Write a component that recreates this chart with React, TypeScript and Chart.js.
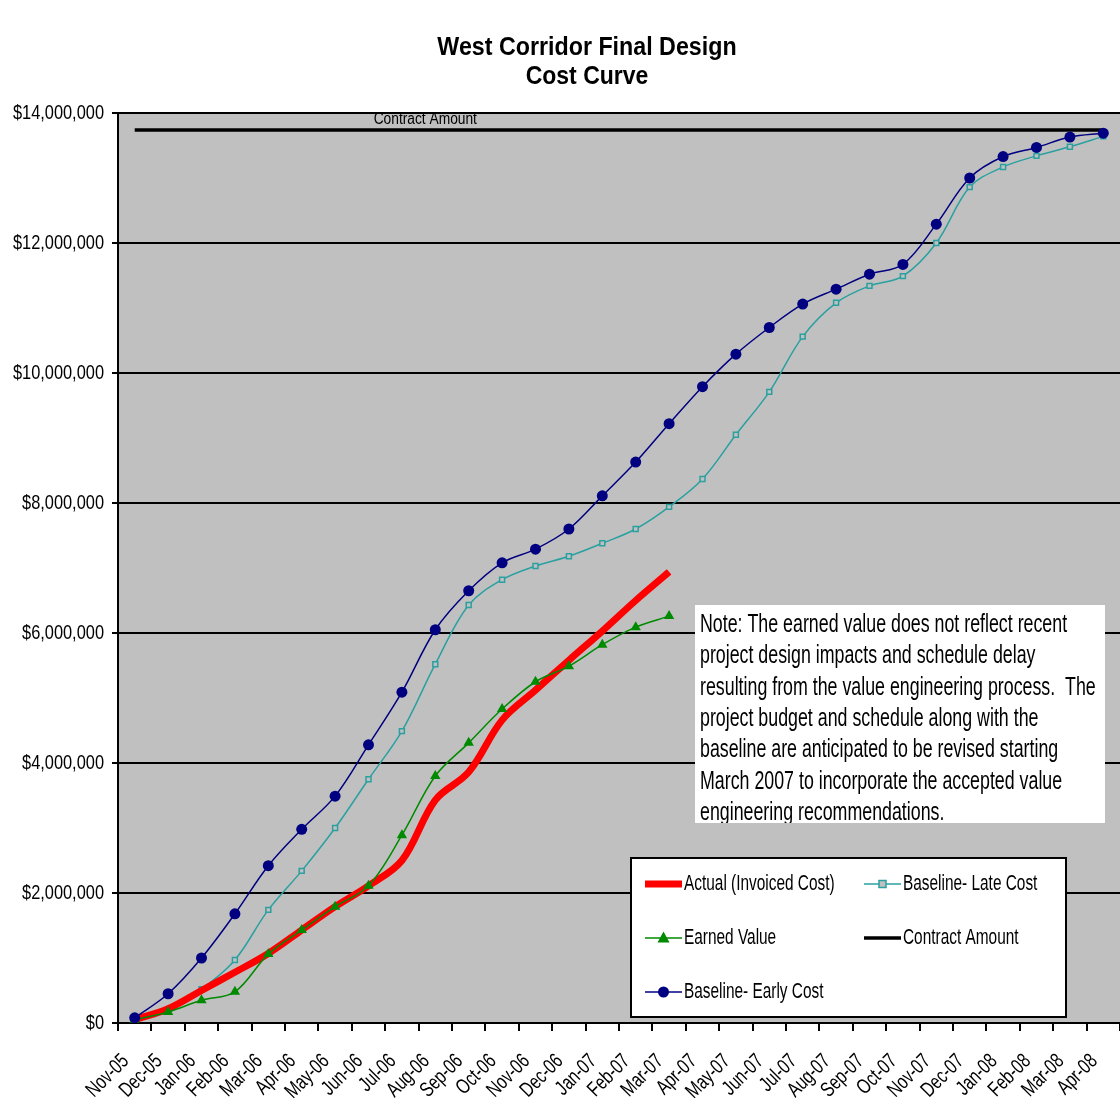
import React, { useEffect, useRef } from "react";
import { Chart, registerables } from "chart.js";

Chart.register(...registerables);

// ---------- data ----------
const months = [
  "Nov-05", "Dec-05", "Jan-06", "Feb-06", "Mar-06", "Apr-06", "May-06", "Jun-06",
  "Jul-06", "Aug-06", "Sep-06", "Oct-06", "Nov-06", "Dec-06", "Jan-07", "Feb-07",
  "Mar-07", "Apr-07", "May-07", "Jun-07", "Jul-07", "Aug-07", "Sep-07", "Oct-07",
  "Nov-07", "Dec-07", "Jan-08", "Feb-08", "Mar-08", "Apr-08",
];

const actualInvoicedCost = [
  50000, 220000, 500000, 780000, 1070000, 1430000, 1790000, 2110000,
  2500000, 3430000, 3860000, 4660000, 5120000, 5580000, 6030000, 6500000,
  6940000,
];

const earnedValue = [
  50000, 170000, 350000, 480000, 1060000, 1430000, 1790000, 2110000,
  2890000, 3800000, 4310000, 4830000, 5250000, 5490000, 5820000, 6090000,
  6260000,
];

const baselineEarlyCost = [
  80000, 450000, 1000000, 1680000, 2420000, 2980000, 3490000, 4280000,
  5090000, 6050000, 6650000, 7080000, 7290000, 7600000, 8110000, 8630000,
  9220000, 9790000, 10290000, 10700000, 11060000, 11290000, 11520000, 11670000,
  12290000, 13000000, 13330000, 13470000, 13630000, 13690000,
];

const baselineLateCost = [
  20000, 200000, 520000, 970000, 1740000, 2340000, 3000000, 3750000,
  4490000, 5520000, 6430000, 6820000, 7030000, 7180000, 7380000, 7600000,
  7940000, 8370000, 9050000, 9710000, 10560000, 11080000, 11340000, 11490000,
  12000000, 12860000, 13170000, 13340000, 13480000, 13640000,
];

const contractAmount = [
  13740000, 13740000, 13740000, 13740000, 13740000, 13740000, 13740000, 13740000,
  13740000, 13740000, 13740000, 13740000, 13740000, 13740000, 13740000, 13740000,
  13740000, 13740000, 13740000, 13740000, 13740000, 13740000, 13740000, 13740000,
  13740000, 13740000, 13740000, 13740000, 13740000, 13740000,
];

const yMin = 0;
const yMax = 14000000;
const yStep = 2000000;

const titleLines = ["West Corridor Final Design", "Cost Curve"];
const contractLabel = "Contract Amount";
const contractLabelIndex = 9;
const noteLines = [
  "Note: The earned value does not reflect recent",
  "project design impacts and schedule delay",
  "resulting from the value engineering process.  The",
  "project budget and schedule along with the",
  "baseline are anticipated to be revised starting",
  "March 2007 to incorporate the accepted value",
  "engineering recommendations.",
];

// ---------- styles ----------
const SANS = "'Liberation Sans', Arial, sans-serif";
const RED = "#ff0000";
const GREEN = "#008a00";
const NAVY = "#000080";
const TEAL = "#2aa0a0";
const PLOT_BG = "#c0c0c0";

function fmtMoney(v: number) {
  return "$" + Math.round(v).toLocaleString("en-US");
}

// text drawn horizontally condensed (the original uses a narrow face)
function drawText(
  ctx: CanvasRenderingContext2D,
  text: string,
  x: number,
  y: number,
  font: string,
  sx: number,
  align: CanvasTextAlign,
  baseline: CanvasTextBaseline,
  rot = 0
) {
  ctx.save();
  ctx.translate(x, y);
  if (rot) ctx.rotate(rot);
  ctx.scale(sx, 1);
  ctx.font = font;
  ctx.fillStyle = "#000";
  ctx.textAlign = align;
  ctx.textBaseline = baseline;
  ctx.fillText(text, 0, 0);
  ctx.restore();
}

function drawMarker(ctx: CanvasRenderingContext2D, style: string, x: number, y: number, r: number, color: string) {
  ctx.save();
  ctx.beginPath();
  if (style === "circle") {
    ctx.arc(x, y, r, 0, Math.PI * 2);
    ctx.fillStyle = color;
    ctx.fill();
  } else if (style === "rect") {
    ctx.rect(x - r, y - r, 2 * r, 2 * r);
    ctx.fillStyle = PLOT_BG;
    ctx.fill();
    ctx.lineWidth = 1.5;
    ctx.strokeStyle = color;
    ctx.stroke();
  } else if (style === "triangle") {
    ctx.moveTo(x, y - r * 1.1);
    ctx.lineTo(x + r, y + r * 0.75);
    ctx.lineTo(x - r, y + r * 0.75);
    ctx.closePath();
    ctx.fillStyle = color;
    ctx.fill();
  }
  ctx.restore();
}

const decorPlugin = {
  id: "decor",
  beforeDraw(chart: any) {
    const { ctx, chartArea: a } = chart;
    ctx.save();
    ctx.fillStyle = "#ffffff";
    ctx.fillRect(0, 0, chart.width, chart.height);
    ctx.fillStyle = PLOT_BG;
    ctx.fillRect(a.left, a.top, a.right - a.left, a.bottom - a.top);
    ctx.restore();
  },
  afterDatasetsDraw(chart: any) {
    const { ctx } = chart;
    const xs = chart.scales.x;
    const ys = chart.scales.y;
    drawText(
      ctx,
      contractLabel,
      xs.getPixelForValue(contractLabelIndex) - 10,
      ys.getPixelForValue(contractAmount[contractLabelIndex]) - 10,
      `16px ${SANS}`,
      0.86,
      "center",
      "middle"
    );
  },
  afterDraw(chart: any) {
    const { ctx } = chart;
    const xs = chart.scales.x;
    const ys = chart.scales.y;

    // axis tick labels
    ys.ticks.forEach((t: any) => {
      drawText(ctx, fmtMoney(t.value), ys.right - 14, ys.getPixelForValue(t.value), `21px ${SANS}`, 0.78, "right", "middle");
    });
    months.forEach((m, i) => {
      drawText(ctx, m, xs.getPixelForValue(i) - 9, xs.top + 35, `21px ${SANS}`, 0.75, "right", "middle", -Math.PI / 4);
    });

    // title
    drawText(ctx, titleLines[0], 587, 48, `bold 25px ${SANS}`, 0.93, "center", "middle");
    drawText(ctx, titleLines[1], 587, 77, `bold 25px ${SANS}`, 0.92, "center", "middle");

    ctx.save();
    // note box
    const nx = 695, ny = 605, nw = 410, nh = 218;
    ctx.fillStyle = "#ffffff";
    ctx.fillRect(nx, ny, nw, nh);
    ctx.save();
    ctx.beginPath();
    ctx.rect(nx, ny, nw, nh);
    ctx.clip();
    noteLines.forEach((line, i) => {
      drawText(ctx, line, 700, 625 + i * 31.4, `25px ${SANS}`, 0.712, "left", "middle");
    });
    ctx.restore();

    // legend box
    const lx = 631, ly = 858, lw = 435, lh = 159;
    ctx.fillStyle = "#ffffff";
    ctx.fillRect(lx, ly, lw, lh);
    ctx.strokeStyle = "#000";
    ctx.lineWidth = 2;
    ctx.strokeRect(lx, ly, lw, lh);

    const ds = chart.data.datasets;
    const byLabel = (l: string) => ds.find((d: any) => d.label === l);
    const entries = [
      { d: byLabel("Actual (Invoiced Cost)"), x: 645, y: 884 },
      { d: byLabel("Baseline- Late Cost"), x: 864, y: 884 },
      { d: byLabel("Earned Value"), x: 645, y: 938 },
      { d: byLabel("Contract Amount"), x: 864, y: 938 },
      { d: byLabel("Baseline- Early Cost"), x: 645, y: 992 },
    ];
    entries.forEach((e) => {
      const d = e.d;
      ctx.save();
      ctx.strokeStyle = d.borderColor;
      ctx.lineWidth = d.borderWidth;
      ctx.beginPath();
      ctx.moveTo(e.x, e.y);
      ctx.lineTo(e.x + 37, e.y);
      ctx.stroke();
      ctx.restore();
      if (d.pointRadius > 0) {
        drawMarker(ctx, d.pointStyle, e.x + 18.5, e.y, d.pointRadius, d.borderColor);
      }
      drawText(ctx, d.label, e.x + 39, e.y, `22px ${SANS}`, 0.7, "left", "middle");
    });
    ctx.restore();
  },
};

export default function App() {
  const canvasRef = useRef<HTMLCanvasElement | null>(null);

  useEffect(() => {
    const canvas = canvasRef.current;
    if (!canvas) return;
    const chart = new Chart(canvas, {
      type: "line",
      data: {
        labels: months,
        datasets: [
          {
            label: "Baseline- Early Cost",
            data: baselineEarlyCost,
            borderColor: NAVY,
            backgroundColor: NAVY,
            borderWidth: 1.5,
            pointStyle: "circle",
            pointRadius: 5.5,
            pointBorderWidth: 0,
            tension: 0.35,
            order: 1,
          },
          {
            label: "Earned Value",
            data: earnedValue,
            borderColor: GREEN,
            backgroundColor: GREEN,
            borderWidth: 1.5,
            pointStyle: "triangle",
            pointRadius: 6,
            pointBorderWidth: 0,
            tension: 0.35,
            order: 2,
          },
          {
            label: "Actual (Invoiced Cost)",
            data: actualInvoicedCost,
            borderColor: RED,
            backgroundColor: RED,
            borderWidth: 7,
            pointRadius: 0,
            tension: 0.35,
            order: 3,
          },
          {
            label: "Baseline- Late Cost",
            data: baselineLateCost,
            borderColor: TEAL,
            backgroundColor: PLOT_BG,
            borderWidth: 1.5,
            pointStyle: "rect",
            pointRadius: 3.5,
            pointBorderWidth: 1.5,
            tension: 0.35,
            order: 4,
          },
          {
            label: "Contract Amount",
            data: contractAmount,
            borderColor: "#000000",
            backgroundColor: "#000000",
            borderWidth: 3.5,
            pointRadius: 0,
            tension: 0,
            order: 5,
          },
        ],
      },
      options: {
        responsive: false,
        animation: false,
        events: [],
        layout: { padding: { top: 113, right: 0, left: 0, bottom: 0 } },
        plugins: {
          legend: { display: false },
          title: { display: false },
          tooltip: { enabled: false },
        },
        scales: {
          x: {
            type: "category",
            offset: true,
            grid: {
              offset: true,
              drawOnChartArea: false,
              drawTicks: true,
              tickLength: 8,
              color: "#000",
              lineWidth: 2,
            },
            border: { color: "#000", width: 2 },
            ticks: { display: false, autoSkip: false },
            afterFit(scale: any) {
              scale.height = 97;
            },
          },
          y: {
            min: yMin,
            max: yMax,
            grid: {
              color: "#000",
              lineWidth: 2,
              drawTicks: true,
              tickLength: 6,
            },
            border: { color: "#000", width: 2 },
            ticks: { display: false, stepSize: yStep },
            afterFit(scale: any) {
              scale.width = 118;
            },
          },
        },
      },
      plugins: [decorPlugin],
    } as any);
    return () => chart.destroy();
  }, []);

  return (
    <div style={{ position: "fixed", left: 0, top: 0, width: 1120, height: 1120, overflow: "hidden", background: "#fff" }}>
      <canvas ref={canvasRef} width={1126} height={1120} style={{ display: "block" }} />
    </div>
  );
}
